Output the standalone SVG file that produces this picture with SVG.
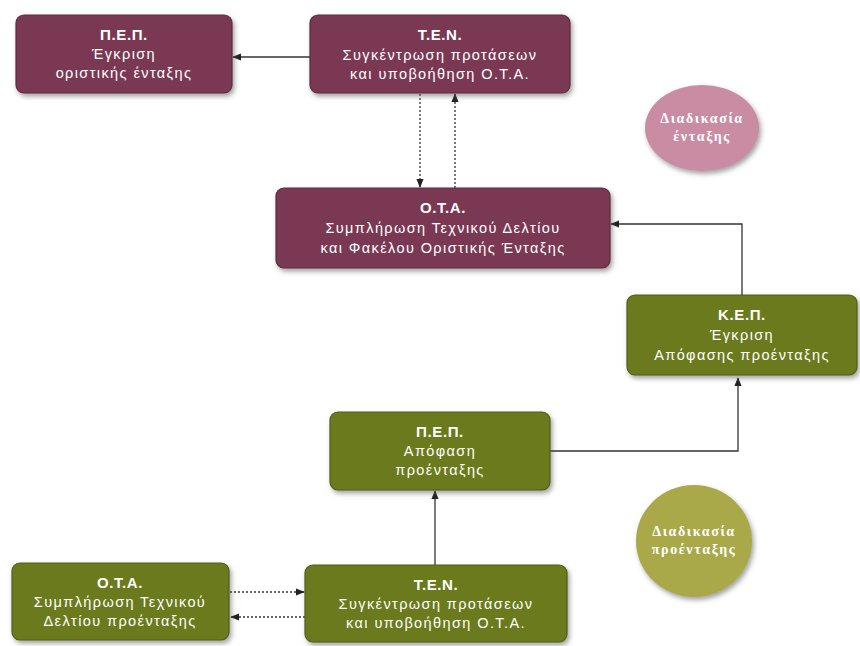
<svg xmlns="http://www.w3.org/2000/svg" width="860" height="646" viewBox="0 0 860 646">
<defs>
<filter id="sh" x="-10%" y="-10%" width="125%" height="135%">
<feDropShadow dx="2" dy="3" stdDeviation="2.5" flood-color="#555" flood-opacity="0.55"/>
</filter>
<marker id="ah" viewBox="0 0 10 10" refX="9" refY="5" markerWidth="9" markerHeight="9" orient="auto-start-reverse" markerUnits="userSpaceOnUse">
<path d="M0,1 L10,5 L0,9 z" fill="#222"/>
</marker>
</defs>
<style>
.m{fill:#7a3852;stroke:#5e2a3f;stroke-width:1.2;filter:url(#sh)}
.g{fill:#6b7a1e;stroke:#525e14;stroke-width:1.2;filter:url(#sh)}
text{font-family:"Liberation Sans",Arial,sans-serif;fill:#fff;text-anchor:middle;font-size:14.5px;letter-spacing:1.4px}
.t{font-weight:bold;font-size:15px;letter-spacing:0.6px}
.c{font-family:"Liberation Serif","Times New Roman",serif;font-weight:bold;font-size:14px;letter-spacing:1.6px}
.l{fill:none;stroke:#333;stroke-width:1.3}
.d{fill:none;stroke:#333;stroke-width:1.3;stroke-dasharray:2,2}
</style>
<rect width="860" height="646" fill="#fff"/>
<g id="connectors">
<line class="l" x1="310" y1="57" x2="233" y2="57" marker-end="url(#ah)"/>
<line class="d" x1="420" y1="94" x2="420" y2="187" marker-end="url(#ah)"/>
<line class="d" x1="455" y1="188" x2="455" y2="94" marker-end="url(#ah)"/>
<polyline class="l" points="742,295 742,224 611,224" marker-end="url(#ah)"/>
<polyline class="l" points="550,451 738,451 738,378" marker-end="url(#ah)"/>
<line class="l" x1="435" y1="565" x2="435" y2="491" marker-end="url(#ah)"/>
<line class="d" x1="230" y1="592" x2="304" y2="592" marker-end="url(#ah)"/>
<line class="d" x1="305" y1="617" x2="231" y2="617" marker-end="url(#ah)"/>
</g>
<g id="pep-top">
<rect class="m" x="16" y="15" width="216" height="78" rx="8"/>
<text class="t" x="124" y="40">Π.Ε.Π.</text>
<text x="124" y="59">Έγκριση</text>
<text x="124" y="78">οριστικής ένταξης</text>
</g>
<g id="ten-top">
<rect class="m" x="310" y="15" width="260" height="78" rx="8"/>
<text class="t" x="440" y="40">Τ.Ε.Ν.</text>
<text x="440" y="60">Συγκέντρωση προτάσεων</text>
<text x="440" y="79">και υποβοήθηση Ο.Τ.Α.</text>
</g>
<g id="ota-mid">
<rect class="m" x="276" y="188" width="334" height="80" rx="8"/>
<text class="t" x="443" y="213">Ο.Τ.Α.</text>
<text x="443" y="233">Συμπλήρωση Τεχνικού Δελτίου</text>
<text x="443" y="253">και Φακέλου Οριστικής Ένταξης</text>
</g>
<g id="circle-entaxi">
<ellipse cx="702" cy="128" rx="57" ry="43" fill="#c98ca2" filter="url(#sh)"/>
<text class="c" x="702" y="123">Διαδικασία</text>
<text class="c" x="702" y="141">ένταξης</text>
</g>
<g id="kep">
<rect class="g" x="627" y="295" width="230" height="80" rx="8"/>
<text class="t" x="742" y="320">Κ.Ε.Π.</text>
<text x="742" y="340">Έγκριση</text>
<text x="742" y="360">Απόφασης προένταξης</text>
</g>
<g id="pep-bottom">
<rect class="g" x="330" y="412" width="220" height="78" rx="8"/>
<text class="t" x="440" y="437">Π.Ε.Π.</text>
<text x="440" y="456">Απόφαση</text>
<text x="440" y="475">προένταξης</text>
</g>
<g id="circle-proentaxi">
<ellipse cx="694" cy="541" rx="58" ry="56" fill="#a9a94a" filter="url(#sh)"/>
<text class="c" x="694" y="536">Διαδικασία</text>
<text class="c" x="694" y="554">προένταξης</text>
</g>
<g id="ota-bottom">
<rect class="g" x="12" y="563" width="217" height="77" rx="8"/>
<text class="t" x="120" y="588">Ο.Τ.Α.</text>
<text x="120" y="607">Συμπλήρωση Τεχνικού</text>
<text x="120" y="626">Δελτίου προένταξης</text>
</g>
<g id="ten-bottom">
<rect class="g" x="305" y="565" width="262" height="77" rx="8"/>
<text class="t" x="436" y="590">Τ.Ε.Ν.</text>
<text x="436" y="609">Συγκέντρωση προτάσεων</text>
<text x="436" y="628">και υποβοήθηση Ο.Τ.Α.</text>
</g>
</svg>
